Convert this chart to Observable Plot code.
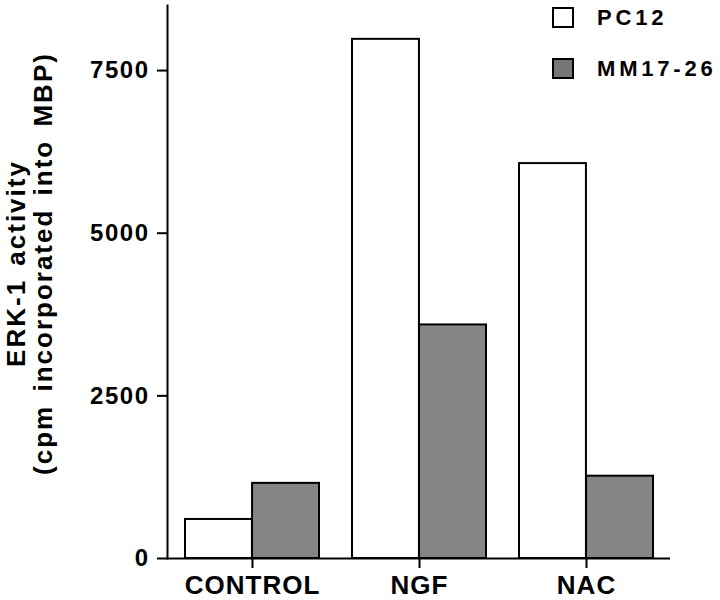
<!DOCTYPE html>
<html>
<head>
<meta charset="utf-8">
<script src="https://cdn.jsdelivr.net/npm/d3@7"></script>
<script src="https://cdn.jsdelivr.net/npm/@observablehq/plot@0.6"></script>
<style>
  html, body { margin: 0; padding: 0; background: white; }
  #chart { position: relative; width: 720px; height: 600px; }
  [aria-label="x-axis tick label"] text { letter-spacing: 1px; }
  [aria-label="y-axis tick label"] text { letter-spacing: 1.5px; }
</style>
</head>
<body>
<div id="chart"></div>
<script>
// ---- data ----
const categories = ["CONTROL", "NGF", "NAC"];
const seriesNames = ["PC12", "MM17-26"];
const pc12Values = [600, 7980, 6070];
const mm1726Values = [1155, 3590, 1265];
const yTicks = [0, 2500, 5000, 7500];
const yLabelLines = ["ERK-1 activity", "(cpm incorporated into MBP)"];
const seriesFills = ["white", "#858585"];

// ---- build table ----
const rows = categories.flatMap((c, i) => [
  {category: c, series: seriesNames[0], value: pc12Values[i]},
  {category: c, series: seriesNames[1], value: mm1726Values[i]}
]);

// layout
const W = 720, H = 600;
const mL = 167, mR = 50, mT = 5, mB = 42;
const padInner = 0.2, padOuter = 0.1;
const step = (W - mL - mR) / (categories.length - padInner + 2 * padOuter);
const half = step * (1 - padInner) / 2;

const font = "'Liberation Sans', Arial, Helvetica, sans-serif";

const chart = Plot.plot({
  width: W,
  height: H,
  marginLeft: mL,
  marginRight: mR,
  marginTop: mT,
  marginBottom: mB,
  style: {fontFamily: font, background: "white", color: "black", overflow: "visible"},
  x: {type: "band", domain: categories, paddingInner: padInner, paddingOuter: padOuter, axis: null},
  y: {domain: [0, 8500], axis: null},
  marks: [
    Plot.barY(rows.filter(d => d.series === seriesNames[0]), {
      x: "category", y: "value", fill: seriesFills[0], stroke: "black", strokeWidth: 2,
      insetRight: half
    }),
    Plot.barY(rows.filter(d => d.series === seriesNames[1]), {
      x: "category", y: "value", fill: seriesFills[1], stroke: "black", strokeWidth: 2,
      insetLeft: half
    }),
    Plot.ruleY([0], {stroke: "black", strokeWidth: 2}),
    Plot.frame({anchor: "left", stroke: "black", strokeWidth: 2}),
    Plot.axisY({
      ticks: yTicks, tickSize: 10, tickPadding: 8, fontSize: 24, fontWeight: "bold",
      strokeWidth: 2, label: null, tickFormat: d => String(d)
    }),
    Plot.axisX({
      tickSize: 10, tickPadding: 7, fontSize: 26, fontWeight: "bold",
      strokeWidth: 2, label: null
    })
  ]
});

document.getElementById("chart").appendChild(chart);

// ---- y-axis title (two lines) ----
const svg = d3.select(chart);
const yMid = (mT + (H - mB)) / 2 - 18;
const baselines = [25, 52];
yLabelLines.forEach((t, i) => {
  svg.append("text")
    .attr("transform", `translate(${baselines[i]},${yMid}) rotate(-90)`)
    .attr("text-anchor", "middle")
    .attr("font-family", font)
    .attr("font-weight", "bold")
    .attr("font-size", 26)
    .style("letter-spacing", "2px")
    .style("word-spacing", "4px")
    .attr("fill", "black")
    .text(t);
});

// ---- legend (top right, inside plot) ----
const legend = svg.append("g").attr("aria-label", "legend");
const legendTops = [8, 59];
const legendFills = ["white", "#777777"];
seriesNames.forEach((name, i) => {
  legend.append("rect")
    .attr("x", 553).attr("y", legendTops[i])
    .attr("width", 20).attr("height", 19)
    .attr("fill", legendFills[i]).attr("stroke", "black").attr("stroke-width", 2);
  legend.append("text")
    .attr("x", 597).attr("y", legendTops[i] + 17)
    .attr("text-anchor", "start")
    .attr("font-family", font)
    .attr("font-weight", "bold")
    .attr("font-size", 22)
    .style("letter-spacing", "3.8px")
    .attr("fill", "black")
    .text(name);
});
</script>
</body>
</html>
